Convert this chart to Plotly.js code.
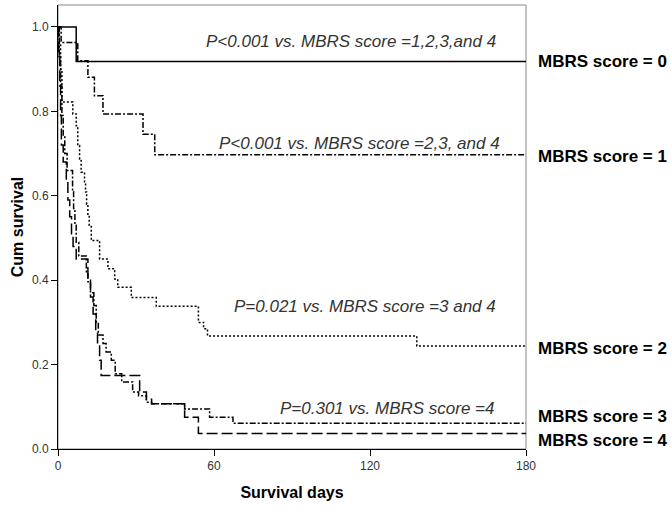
<!DOCTYPE html>
<html>
<head>
<meta charset="utf-8">
<script src="https://cdn.plot.ly/plotly-3.0.1.min.js"></script>
<style>html,body{margin:0;padding:0;background:#fff;}#chart{width:672px;height:507px;}</style>
</head>
<body>
<div id="chart"></div>
<script>
// Kaplan-Meier step data (days, cumulative survival)
const days0 = [0, 7, 180];
const surv0 = [1, 0.918, 0.918];

const days1 = [0, 1.2, 7.6, 11.5, 14, 17.3, 32.7, 37.2, 180];
const surv1 = [1, 0.963, 0.92, 0.881, 0.837, 0.794, 0.746, 0.697, 0.697];

const days2 = [0, 0.5, 1, 1.5, 5.7, 7.0, 7.6, 8.3, 8.9, 10.2, 10.6, 11.0, 11.5, 12.0, 12.8, 16, 19.2, 21.8, 23, 28.2, 37.8, 54, 56, 57.5, 138, 180];
const surv2 = [1, 0.96, 0.90, 0.822, 0.794, 0.766, 0.719, 0.687, 0.656, 0.633, 0.609, 0.58, 0.553, 0.53, 0.494, 0.450, 0.427, 0.403, 0.383, 0.359, 0.338, 0.30, 0.285, 0.268, 0.244, 0.244];

const days3 = [0, 0.5, 1, 1.5, 2, 2.6, 3.5, 5.6, 6.0, 6.5, 7.0, 8.0, 10.9, 11.5, 12.5, 13.8, 14.7, 15.5, 17.3, 18.5, 20.5, 22, 24.5, 28.7, 31, 34, 36, 48.7, 58.3, 67.3, 180];
const surv3 = [1, 0.93, 0.86, 0.79, 0.74, 0.70, 0.66, 0.61, 0.57, 0.53, 0.49, 0.457, 0.42, 0.396, 0.37, 0.34, 0.30, 0.27, 0.25, 0.23, 0.21, 0.178, 0.159, 0.135, 0.126, 0.111, 0.107, 0.095, 0.075, 0.061, 0.061];

const days4 = [0, 0.3, 0.7, 1, 1.3, 2, 3.2, 3.8, 4.5, 5.2, 5.8, 7, 11.5, 12.5, 13.5, 14.5, 15.2, 16, 16.6, 31.4, 34, 36, 48.7, 54, 180];
const surv4 = [1, 0.93, 0.86, 0.79, 0.72, 0.68, 0.64, 0.59, 0.55, 0.51, 0.48, 0.45, 0.40, 0.36, 0.32, 0.28, 0.25, 0.21, 0.174, 0.135, 0.118, 0.107, 0.075, 0.037, 0.037];

const groupLabels = ['MBRS score = 0', 'MBRS score = 1', 'MBRS score = 2', 'MBRS score = 3', 'MBRS score = 4'];
const groupLabelY = [0.917, 0.694, 0.239, 0.078, 0.021];

const pTexts = ['P<0.001 vs. MBRS score =1,2,3,and 4', 'P<0.001 vs. MBRS score =2,3, and 4', 'P=0.021 vs. MBRS score =3 and 4', 'P=0.301 vs. MBRS score =4'];
const pTextX = [169.1, 170.7, 169.1, 168.7];
const pTextY = [0.965, 0.724, 0.337, 0.096];

const xTicks = [0, 60, 120, 180];
const yTicks = [0, 0.2, 0.4, 0.6, 0.8, 1.0];
const yTickText = ['0.0', '0.2', '0.4', '0.6', '0.8', '1.0'];

const FONT = 'Liberation Sans, Arial, sans-serif';
const dashes = ['solid', '6px,2px,2px,2px', '2px,2px', '6px,2px,2px,2px', '11px,4px'];
const allDays = [days0, days1, days2, days3, days4];
const allSurv = [surv0, surv1, surv2, surv3, surv4];

const traces = allDays.map((d, i) => ({
  x: d, y: allSurv[i], type: 'scatter', mode: 'lines',
  line: {shape: 'hv', color: '#000', width: 1.5, dash: dashes[i]},
  hoverinfo: 'skip', showlegend: false
}));

const annotations = [];
pTexts.forEach((t, i) => annotations.push({
  text: t, x: pTextX[i], y: pTextY[i], xref: 'x', yref: 'y',
  xanchor: 'right', yanchor: 'middle', showarrow: false,
  font: {family: FONT, size: 17, color: '#333', style: 'italic'}
}));
groupLabels.forEach((t, i) => annotations.push({
  text: '<b>' + t + '</b>', x: 1.021, y: groupLabelY[i], xref: 'paper', yref: 'y',
  xanchor: 'left', yanchor: 'middle', showarrow: false,
  font: {family: FONT, size: 17, color: '#000'}
}));

const layout = {
  width: 672, height: 507,
  margin: {l: 58, r: 146, t: 5, b: 58},
  paper_bgcolor: '#fff', plot_bgcolor: '#fff',
  font: {family: FONT},
  xaxis: {
    range: [0, 180], tickvals: xTicks, ticks: 'outside', ticklen: 6, tickcolor: '#000',
    showline: true, linecolor: '#000', linewidth: 1, showgrid: false, zeroline: false,
    tickfont: {size: 12, color: '#333'},
    title: {text: '<b>Survival days</b>', font: {size: 16, color: '#000'}, standoff: 14}
  },
  yaxis: {
    range: [0, 1.052], tickvals: yTicks, ticktext: yTickText, ticks: 'outside', ticklen: 6, tickcolor: '#000',
    showline: true, linecolor: '#000', linewidth: 1, showgrid: false, zeroline: false,
    tickfont: {size: 12, color: '#333'},
    title: {text: '<b>Cum survival</b>', font: {size: 16, color: '#000'}, standoff: 4}
  },
  shapes: [{type: 'rect', xref: 'paper', yref: 'paper', x0: 0, x1: 1, y0: 0, y1: 1,
            line: {color: '#888', width: 1}, layer: 'below'}],
  annotations: annotations
};

Plotly.newPlot('chart', traces, layout, {displayModeBar: false, staticPlot: true});
</script>
</body>
</html>
